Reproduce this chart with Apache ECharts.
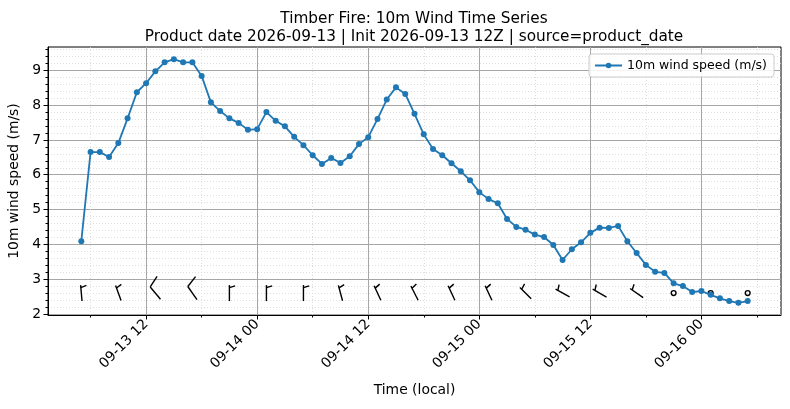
<!DOCTYPE html>
<html>
<head>
<meta charset="utf-8">
<title>Timber Fire: 10m Wind Time Series</title>
<script src="https://cdn.jsdelivr.net/npm/echarts@6/dist/echarts.min.js"></script>
<style>
    html, body { margin: 0; padding: 0; background: #fff; }
    #chart { width: 790px; height: 409px; }
</style>
</head>
<body>
<div id="chart"></div>
<script>
// hours are counted from 2026-09-13 00:00 local, one value per hour
var firstHour = 5;
var windSpeed = [
    4.09, 6.65, 6.65, 6.51, 6.91, 7.62, 8.37, 8.63, 8.97, 9.23,
    9.32, 9.23, 9.23, 8.84, 8.08, 7.83, 7.62, 7.49, 7.29, 7.31,
    7.80, 7.55, 7.39, 7.09, 6.85, 6.56, 6.31, 6.48, 6.34, 6.53,
    6.88, 7.08, 7.60, 8.16, 8.51, 8.32, 7.75, 7.16, 6.74, 6.56,
    6.33, 6.10, 5.84, 5.50, 5.30, 5.18, 4.73, 4.50, 4.42, 4.28,
    4.21, 3.98, 3.55, 3.86, 4.06, 4.33, 4.48, 4.47, 4.53, 4.09,
    3.75, 3.41, 3.21, 3.18, 2.88, 2.80, 2.63, 2.66, 2.55, 2.45,
    2.37, 2.32, 2.37
];

// wind barbs, one every 4 hours from the first hour
var barbStep = 4;
var barbDir = [355, 340, 320, 325, 0, 0, 0, 345, 335, 333, 335, 335, 315, 299, 300, 305, 0, 0, 0];
var barbFlag = [5, 5, 10, 10, 5, 5, 5, 5, 5, 5, 5, 5, 5, 5, 5, 5, 0, 0, 0]; // 0 = calm

var xTickHours = [12, 24, 36, 48, 60, 72];
var xTickLabels = ['09-13 12', '09-14 00', '09-14 12', '09-15 00', '09-15 12', '09-16 00'];
var xMinorHours = [6, 18, 30, 42, 54, 66, 78];
var yTicks = [2, 3, 4, 5, 6, 7, 8, 9];

var X_MIN = 1.4, X_MAX = 80.6;
var Y_MIN = 1.97, Y_MAX = 9.67;
var BARB_Y = 2.6;

var yMinor = [];
for (var k = 0; k < yTicks.length; k++) {
    for (var j = 1; j < 5; j++) {
        var mv = Math.round((yTicks[k] + j * 0.2) * 10) / 10;
        if (mv < Y_MAX) yMinor.push(mv);
    }
}

var lineData = windSpeed.map(function (v, i) { return [firstHour + i, v]; });
var barbData = barbDir.map(function (d, i) { return [firstHour + i * barbStep, d, barbFlag[i]]; });

var FONT = 'DejaVu Sans';

function drawBarb(params, api) {
    var c = api.coord([api.value(0), BARB_Y]);
    var flag = api.value(2);
    var ink = { stroke: '#000', lineWidth: 1.4, fill: null };
    if (flag === 0) {
        return { type: 'circle', shape: { cx: c[0], cy: c[1], r: 2.4 }, style: ink };
    }
    var a = api.value(1) * Math.PI / 180;
    var ux = Math.sin(a), uy = -Math.cos(a);   // staff points where the wind comes from
    var nx = -uy, ny = ux;                      // feathers on the clockwise side
    var L = 16;
    var base = [c[0] - ux * L / 2, c[1] - uy * L / 2];
    var tip = [c[0] + ux * L / 2, c[1] + uy * L / 2];
    var full = flag >= 10;
    var h = full ? 0.75 * L : 0.36 * L;
    var at = full ? tip : [c[0] + ux * L * 0.34, c[1] + uy * L * 0.34];
    var end = [at[0] + nx * h + ux * h * 0.3, at[1] + ny * h + uy * h * 0.3];
    return {
        type: 'group',
        children: [
            { type: 'polyline', shape: { points: [base, tip] }, style: ink },
            { type: 'polyline', shape: { points: [at, end] }, style: ink }
        ]
    };
}

var chart = echarts.init(document.getElementById('chart'), null, { renderer: 'canvas' });
chart.setOption({
    animation: false,
    backgroundColor: '#fff',
    textStyle: { fontFamily: FONT },
    title: {
        text: 'Timber Fire: 10m Wind Time Series\nProduct date 2026-09-13 | Init 2026-09-13 12Z | source=product_date',
        left: 409,
        top: 5,
        textAlign: 'center',
        textStyle: { fontFamily: FONT, fontSize: 15.3, fontWeight: 'normal', color: '#000', lineHeight: 18 }
    },
    legend: {
        data: ['10m wind speed (m/s)'],
        right: 16,
        top: 54,
        padding: [5, 7, 5, 5],
        itemWidth: 27,
        itemHeight: 7,
        itemGap: 6,
        backgroundColor: 'rgba(255,255,255,0.85)',
        borderColor: '#cccccc',
        borderWidth: 1,
        borderRadius: 3,
        textStyle: { fontFamily: FONT, fontSize: 12.5, color: '#000' }
    },
    grid: {
        left: 48, right: 9, top: 47, bottom: 94,
        outerBoundsMode: 'none',
        containLabel: false,
        show: true, borderColor: '#000', borderWidth: 1, backgroundColor: 'transparent'
    },
    xAxis: [{
        type: 'value',
        min: X_MIN, max: X_MAX,
        name: 'Time (local)',
        nameLocation: 'middle',
        nameGap: 68,
        nameTextStyle: { fontFamily: FONT, fontSize: 13.9, color: '#000' },
        axisLine: { show: true, onZero: false, lineStyle: { color: '#000', width: 1 } },
        axisTick: { show: true, length: 4.5, customValues: xTickHours, lineStyle: { color: '#000' } },
        axisLabel: {
            customValues: xTickHours,
            rotate: 45,
            margin: 7,
            fontFamily: FONT, fontSize: 13.9, color: '#000',
            formatter: function (v) {
                var i = xTickHours.indexOf(v);
                return i >= 0 ? xTickLabels[i] : '';
            }
        },
        splitLine: { show: true, lineStyle: { color: '#a6a6a6', width: 1 } }
    }, {
        type: 'value',
        min: X_MIN, max: X_MAX,
        position: 'bottom',
        axisLine: { show: false, onZero: false },
        axisTick: { show: true, length: 2.5, customValues: xMinorHours, lineStyle: { color: '#000' } },
        axisLabel: { show: false, customValues: xMinorHours },
        splitLine: { show: true, lineStyle: { color: '#d6d6d6', width: 0.8, type: [1, 2] } }
    }],
    yAxis: [{
        type: 'value',
        min: Y_MIN, max: Y_MAX,
        name: '10m wind speed (m/s)',
        nameLocation: 'middle',
        nameRotate: 90,
        nameGap: 24,
        nameTextStyle: { fontFamily: FONT, fontSize: 13.9, color: '#000' },
        axisLine: { show: true, onZero: false, lineStyle: { color: '#000', width: 1 } },
        axisTick: { show: true, length: 4.5, customValues: yTicks, lineStyle: { color: '#000' } },
        axisLabel: {
            customValues: yTicks,
            margin: 7,
            fontFamily: FONT, fontSize: 13.9, color: '#000'
        },
        splitLine: { show: true, lineStyle: { color: '#a6a6a6', width: 1 } }
    }, {
        type: 'value',
        min: Y_MIN, max: Y_MAX,
        position: 'left',
        axisLine: { show: false, onZero: false },
        axisTick: { show: true, length: 2.5, customValues: yMinor, lineStyle: { color: '#000' } },
        axisLabel: { show: false, customValues: yMinor },
        splitLine: { show: true, lineStyle: { color: '#d6d6d6', width: 0.8, type: [1, 2] } }
    }],
    series: [{
        name: 'wind barbs',
        type: 'custom',
        xAxisIndex: 0,
        yAxisIndex: 0,
        z: 1,
        silent: true,
        renderItem: drawBarb,
        data: barbData
    }, {
        name: '10m wind speed (m/s)',
        type: 'line',
        xAxisIndex: 0,
        yAxisIndex: 0,
        z: 3,
        data: lineData,
        symbol: 'circle',
        symbolSize: 6,
        showSymbol: true,
        color: '#1f77b4',
        lineStyle: { color: '#1f77b4', width: 1.8 },
        itemStyle: { color: '#1f77b4' }
    }]
});
</script>
</body>
</html>
